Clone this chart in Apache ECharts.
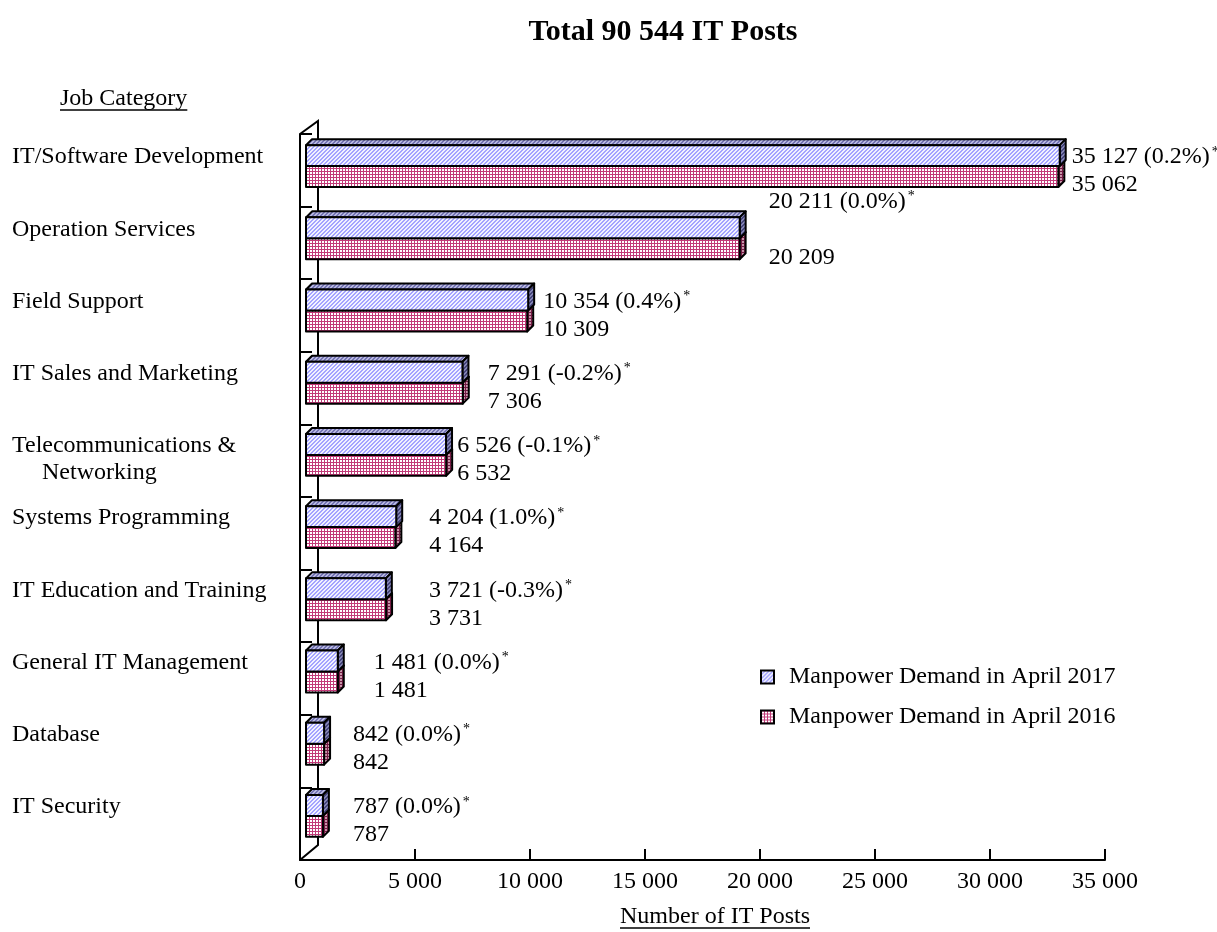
<!DOCTYPE html>
<html><head><meta charset="utf-8">
<script src="https://cdn.jsdelivr.net/npm/echarts@6/dist/echarts.min.js"></script>
<style>html,body{margin:0;padding:0;background:#fff}#chart{width:1217px;height:932px}</style>
</head><body><div id="chart"></div>
<script>
// ---------------- data ----------------
const chartTitle = 'Total 90 544 IT Posts';
const categoryAxisTitle = 'Job Category';
const valueAxisTitle = 'Number of IT Posts';
const seriesNames = ['Manpower Demand in April 2017', 'Manpower Demand in April 2016'];
const categories = [
  'IT/Software Development',
  'Operation Services',
  'Field Support',
  'IT Sales and Marketing',
  'Telecommunications &\n     Networking',
  'Systems Programming',
  'IT Education and Training',
  'General IT Management',
  'Database',
  'IT Security'
];
const demand2017 = [35127, 20211, 10354, 7291, 6526, 4204, 3721, 1481, 842, 787];
const demand2016 = [35062, 20209, 10309, 7306, 6532, 4164, 3731, 1481, 842, 787];
const change2017 = ['0.2', '0.0', '0.4', '-0.2', '-0.1', '1.0', '-0.3', '0.0', '0.0', '0.0'];
const valueAxisMin = 0;
const valueAxisMax = 35000;
const valueAxisStep = 5000;

// ---------------- layout / style ----------------
const FONT = '"Liberation Serif", "Times New Roman", serif';
const FS = 24;
const DEPTH = 6;
const labelGap = [12, 29, 15, 25, 11, 33, 43, 36, 29, 30];   // px between longest bar end and its label
const labelLift = [0, 28, 0, 0, 0, 0, 0, 0, 0, 0];          // extra upward shift of the 2017 label

function fmt(v) { return String(v).replace(/\B(?=(\d{3})+(?!\d))/g, ' '); }

function diagPattern(bg, fg) {
  const c = document.createElement('canvas'); c.width = c.height = 4;
  const ctx = c.getContext('2d');
  ctx.fillStyle = bg; ctx.fillRect(0, 0, 4, 4);
  ctx.fillStyle = fg;
  for (let i = 0; i < 4; i++) { ctx.fillRect(3 - i, i, 1, 1); ctx.fillRect((4 - i) % 4, i, 1, 1); }
  return { image: c, repeat: 'repeat' };
}
function gridPattern(bg, fg) {
  const c = document.createElement('canvas'); c.width = c.height = 3;
  const ctx = c.getContext('2d');
  ctx.fillStyle = bg; ctx.fillRect(0, 0, 3, 3);
  ctx.fillStyle = fg;
  ctx.fillRect(0, 0, 3, 1); ctx.fillRect(0, 0, 1, 3);
  return { image: c, repeat: 'repeat' };
}
const bluePats = {
  front: diagPattern('#f2f2ff', '#a4a4ff'),
  top: diagPattern('#b8b8e0', '#7474b4'),
  side: diagPattern('#8484b4', '#44447a')
};
const pinkPats = {
  front: gridPattern('#ffffff', '#c23a78'),
  top: gridPattern('#e8b4c8', '#9a2c5c'),
  side: gridPattern('#c894aa', '#741c44')
};

const measureCtx = document.createElement('canvas').getContext('2d');
function textWidth(t, font) { measureCtx.font = font; return measureCtx.measureText(t).width; }

function makeRender(which) {
  const pats = which === 0 ? bluePats : pinkPats;
  return function (params, api) {
    const i = params.dataIndex;
    const v = api.value(0), cat = api.value(1);
    const p0 = api.coord([0, cat]);
    const p1 = api.coord([v, cat]);
    const band = api.size([0, 1])[1];
    const h = band * 0.29;
    const c = p0[1];
    const y0 = which === 0 ? c - h : c;
    const y1 = y0 + h;
    const x0 = p0[0], x1 = p1[0], d = DEPTH;
    const stroke = { stroke: '#000', lineWidth: 2, lineJoin: 'round' };
    const maxEnd = api.coord([Math.max(demand2017[i], demand2016[i]), cat])[0];
    const labelText = which === 0
      ? '{v|' + fmt(demand2017[i]) + ' (' + change2017[i] + '%)}{s|*}'
      : '{v|' + fmt(demand2016[i]) + '}';
    const ly = which === 0 ? c - 9 - labelLift[i] : c + 19;
    return {
      type: 'group',
      children: [
        { type: 'polygon', shape: { points: [[x0, y0], [x0 + d, y0 - d], [x1 + d, y0 - d], [x1, y0]] },
          style: Object.assign({ fill: pats.top }, stroke) },
        { type: 'polygon', shape: { points: [[x1, y0], [x1 + d, y0 - d], [x1 + d, y1 - d], [x1, y1]] },
          style: Object.assign({ fill: pats.side }, stroke) },
        { type: 'rect', shape: { x: x0, y: y0, width: x1 - x0, height: h },
          style: Object.assign({ fill: pats.front }, stroke) },
        { type: 'text', x: maxEnd + labelGap[i], y: ly,
          style: {
            text: labelText, align: 'left', verticalAlign: 'middle', fill: '#000',
            rich: {
              v: { fontFamily: FONT, fontSize: FS, fill: '#000', lineHeight: 24 },
              s: { fontFamily: FONT, fontSize: 14, fill: '#000', verticalAlign: 'top', lineHeight: 14, padding: [0, 0, 0, 2] }
            }
          } }
      ]
    };
  };
}

const chart = echarts.init(document.getElementById('chart'), null, { renderer: 'canvas' });

const jobFont = FS + 'px ' + FONT;
const jobW = textWidth(categoryAxisTitle, jobFont);
const numW = textWidth(valueAxisTitle, jobFont);

const option = {
  backgroundColor: '#fff',
  animation: false,
  grid: [
    { left: 300, top: 134, width: 805, height: 726 },
    { left: 306, top: 130, width: 751, height: 722 },
    { left: 306, top: 107.5, width: 751, height: 722 }
  ],
  xAxis: [
    { gridIndex: 0, type: 'value', min: valueAxisMin, max: valueAxisMax, interval: valueAxisStep,
      axisLine: { show: true, lineStyle: { color: '#000', width: 2 } },
      axisTick: { show: true, inside: true, length: 11, lineStyle: { color: '#000', width: 2 } },
      axisLabel: { fontFamily: FONT, fontSize: FS, color: '#000', margin: 10, formatter: fmt },
      splitLine: { show: false } },
    { gridIndex: 1, type: 'value', min: valueAxisMin, max: valueAxisMax, show: false },
    { gridIndex: 2, type: 'value', min: valueAxisMin, max: valueAxisMax, show: false }
  ],
  yAxis: [
    { gridIndex: 0, type: 'category', data: categories, inverse: true,
      axisLine: { show: true, lineStyle: { color: '#000', width: 2 } },
      axisTick: { show: true, inside: true, length: 12, interval: 0, lineStyle: { color: '#000', width: 2 } },
      axisLabel: { show: false }, splitLine: { show: false } },
    { gridIndex: 1, type: 'category', data: categories, inverse: true, show: false },
    { gridIndex: 2, type: 'category', data: categories, inverse: true,
      axisLine: { show: false }, axisTick: { show: false },
      axisLabel: { interval: 0, align: 'left', margin: 294, verticalAlign: 'top', lineHeight: 27,
        fontFamily: FONT, fontSize: FS, color: '#000' } }
  ],
  legend: {
    orient: 'vertical', left: 760, top: 665, padding: 0,
    itemWidth: 13, itemHeight: 13, itemGap: 16, icon: 'rect', selectedMode: false,
    textStyle: { fontFamily: FONT, fontSize: FS, color: '#000', lineHeight: 24, padding: [0, 0, 0, 10] },
    data: [
      { name: seriesNames[0], itemStyle: { color: bluePats.front, borderColor: '#000', borderWidth: 2 } },
      { name: seriesNames[1], itemStyle: { color: pinkPats.front, borderColor: '#000', borderWidth: 2 } }
    ]
  },
  graphic: [
    { type: 'text', x: 663, y: 32, style: { text: chartTitle, align: 'center', verticalAlign: 'middle',
        font: 'bold 30px ' + FONT, fill: '#000' } },
    { type: 'text', x: 60, y: 99, style: { text: categoryAxisTitle, align: 'left', verticalAlign: 'middle',
        font: jobFont, fill: '#000' } },
    { type: 'line', shape: { x1: 60, y1: 110, x2: 60 + jobW, y2: 110 }, style: { stroke: '#000', lineWidth: 1.3 } },
    { type: 'text', x: 715, y: 917, style: { text: valueAxisTitle, align: 'center', verticalAlign: 'middle',
        font: jobFont, fill: '#000' } },
    { type: 'line', shape: { x1: 715 - numW / 2, y1: 928, x2: 715 + numW / 2, y2: 928 }, style: { stroke: '#000', lineWidth: 1.3 } },
    { type: 'polyline', shape: { points: [[300, 134], [318, 121], [318, 845], [300, 860]] },
      style: { stroke: '#000', lineWidth: 2, fill: null } }
  ],
  series: [
    { name: seriesNames[0], type: 'custom', xAxisIndex: 1, yAxisIndex: 1, z: 3, clip: false,
      itemStyle: { color: bluePats.front, borderColor: '#000', borderWidth: 2 },
      encode: { x: 0, y: 1 },
      data: demand2017.map((v, i) => [v, i]),
      renderItem: makeRender(0) },
    { name: seriesNames[1], type: 'custom', xAxisIndex: 1, yAxisIndex: 1, z: 2, clip: false,
      itemStyle: { color: pinkPats.front, borderColor: '#000', borderWidth: 2 },
      encode: { x: 0, y: 1 },
      data: demand2016.map((v, i) => [v, i]),
      renderItem: makeRender(1) }
  ]
};
chart.setOption(option);
</script>
</body></html>
